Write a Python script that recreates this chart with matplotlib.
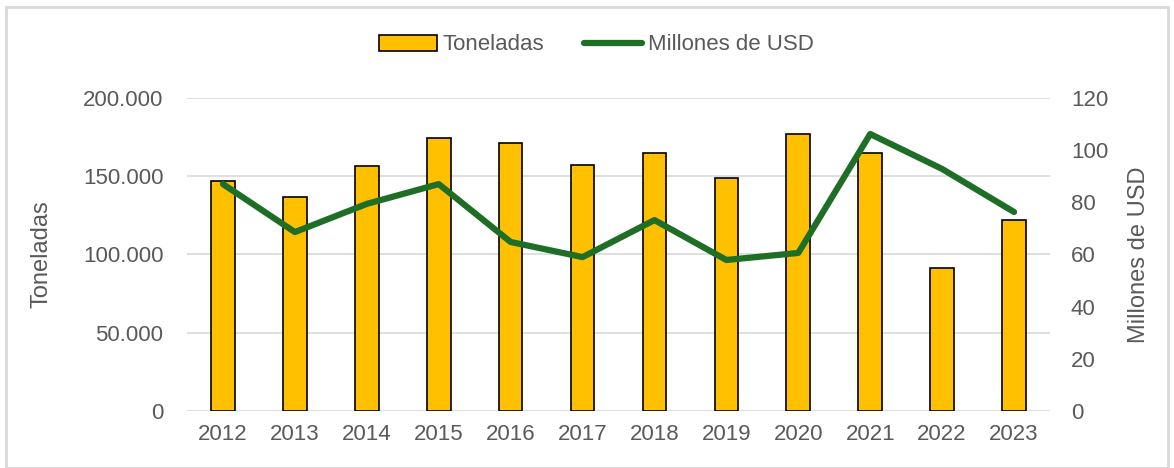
import matplotlib.pyplot as plt
from matplotlib.patches import Rectangle
from matplotlib.ticker import FuncFormatter

years = ['2012', '2013', '2014', '2015', '2016', '2017',
         '2018', '2019', '2020', '2021', '2022', '2023']
toneladas = [147000, 136700, 156500, 174400, 171200, 157200,
             164900, 148900, 177000, 164900, 91400, 122000]
millones_usd = [87.0, 68.6, 79.4, 87.0, 64.8, 59.0,
                73.2, 57.9, 60.6, 106.2, 92.8, 76.3]

plt.rcParams['font.family'] = ['Liberation Sans', 'DejaVu Sans']
text_color = '#595959'
grid_color = '#d9d9d9'

fig = plt.figure(figsize=(11.74, 4.68), dpi=100)
ax = fig.add_axes([187 / 1174, 57 / 468, 863 / 1174, 313 / 468])
ax2 = ax.twinx()

x = range(len(years))
bars = ax.bar(x, toneladas, width=0.33, color='#ffc000', edgecolor='black',
              linewidth=1.2, label='Toneladas', zorder=2)
line, = ax2.plot(x, millones_usd, color='#1e6e26', linewidth=4.5,
                 label='Millones de USD', solid_capstyle='round', zorder=3)

ax.set_xlim(-0.5, len(years) - 0.5)
ax.set_ylim(0, 200000)
ax.set_yticks(range(0, 200001, 50000))
ax.yaxis.set_major_formatter(FuncFormatter(lambda v, p: f'{int(v):,}'.replace(',', '.')))
ax2.set_ylim(0, 120)
ax2.set_yticks(range(0, 121, 20))

ax.set_xticks(list(x))
ax.set_xticklabels(years)
ax.grid(axis='y', color=grid_color, linewidth=1.2, zorder=0)
ax.set_axisbelow(True)

for a in (ax, ax2):
    for s in a.spines.values():
        s.set_visible(False)
    a.tick_params(length=0, labelsize=16, colors=text_color)
ax.tick_params(axis='y', pad=17)
ax.tick_params(axis='x', pad=9)
ax2.tick_params(axis='y', pad=15)

ax.set_ylabel('Toneladas', fontsize=17, color=text_color, labelpad=22)
ax2.set_ylabel('Millones de USD', fontsize=17, color=text_color, labelpad=14)

fig.legend(handles=[bars, line], labels=['Toneladas', 'Millones de USD'],
           loc='center', bbox_to_anchor=(0.508, 1 - 45 / 468), ncol=2,
           frameon=False, fontsize=16, labelcolor=text_color,
           handlelength=2.6, columnspacing=1.8, handletextpad=0.25)

fig.patches.append(Rectangle((6 / 1174, 0), 1162 / 1174, 1 - 7 / 468,
                             transform=fig.transFigure, fill=False,
                             edgecolor='#d9d9d9', linewidth=2))

fig.savefig('out.png', dpi=100)
